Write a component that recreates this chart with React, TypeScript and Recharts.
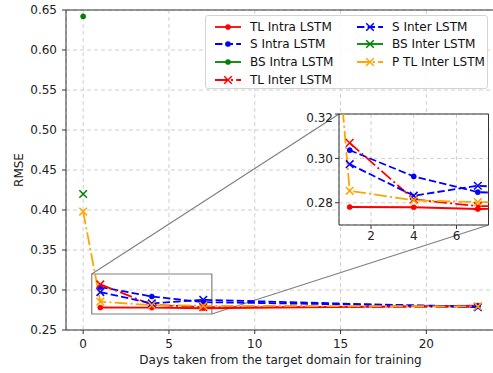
import React from "react";
import {
  LineChart,
  Line,
  XAxis,
  YAxis,
  CartesianGrid,
  ReferenceLine,
  ReferenceArea,
  Legend,
} from "recharts";

// days of target-domain data used for training
const days = [0, 1, 4, 7, 23];

// RMSE per model
const tlIntra = [null, 0.2781, 0.278, 0.2772, 0.2805];
const sIntra = [null, 0.3037, 0.2919, 0.2848, 0.2795];
const bsIntra = [0.642, null, null, null, null];
const tlInter = [null, 0.307, 0.2815, 0.2785, 0.279];
const sInter = [null, 0.2974, 0.2832, 0.2877, 0.2785];
const bsInter = [0.42, null, null, null, null];
const ptlInter = [0.398, 0.2854, 0.2811, 0.2803, 0.2795];

const xTicks = [0, 5, 10, 15, 20];
const yTicks = [0.25, 0.3, 0.35, 0.4, 0.45, 0.5, 0.55, 0.6, 0.65];
const insetXTicks = [2, 4, 6];
const insetYTicks = [0.28, 0.3, 0.32];

const X_DOMAIN = [-1, 24];
const Y_DOMAIN = [0.25, 0.65];
const ZOOM_X = [0.5, 7.5];
const ZOOM_Y = [0.27, 0.32];

const data = days.map((d, i) => ({
  day: d,
  tlIntra: tlIntra[i],
  sIntra: sIntra[i],
  bsIntra: bsIntra[i],
  tlInter: tlInter[i],
  sInter: sInter[i],
  bsInter: bsInter[i],
  ptlInter: ptlInter[i],
}));

const FONT = "'DejaVu Sans', sans-serif";
const DASH = "7.4 3.2";
const DASHDOT = "12.8 3.2 2 3.2";

type Series = {
  key: string;
  name: string;
  color: string;
  dash?: string;
  marker: "dot" | "x";
};

const SERIES: Series[] = [
  { key: "tlIntra", name: "TL Intra LSTM", color: "#ff0000", marker: "dot" },
  { key: "sIntra", name: "S Intra LSTM", color: "#0000ff", dash: DASH, marker: "dot" },
  { key: "bsIntra", name: "BS Intra LSTM", color: "#008000", marker: "dot" },
  { key: "tlInter", name: "TL Inter LSTM", color: "#ff0000", dash: DASHDOT, marker: "x" },
  { key: "sInter", name: "S Inter LSTM", color: "#0000ff", dash: DASH, marker: "x" },
  { key: "bsInter", name: "BS Inter LSTM", color: "#008000", marker: "x" },
  { key: "ptlInter", name: "P TL Inter LSTM", color: "#ffa500", dash: DASHDOT, marker: "x" },
];

// pixel boxes of the main plot and the inset plot (page coords)
const MAIN = { left: 66, top: 10, right: 495, bottom: 330 };
const INSET = { left: 339, top: 114, right: 488.5, bottom: 225 };

const pxToX = (px: number) =>
  X_DOMAIN[0] + ((px - MAIN.left) / (MAIN.right - MAIN.left)) * (X_DOMAIN[1] - X_DOMAIN[0]);
const pxToY = (py: number) =>
  Y_DOMAIN[0] + ((MAIN.bottom - py) / (MAIN.bottom - MAIN.top)) * (Y_DOMAIN[1] - Y_DOMAIN[0]);

function markerShape(s: Series, cx: number, cy: number, key?: any) {
  if (s.marker === "x") {
    const r = 3.8;
    return (
      <path
        key={key}
        d={`M${cx - r},${cy - r}L${cx + r},${cy + r}M${cx - r},${cy + r}L${cx + r},${cy - r}`}
        stroke={s.color}
        strokeWidth={1.5}
        fill="none"
      />
    );
  }
  return <circle key={key} cx={cx} cy={cy} r={2.6} fill={s.color} stroke={s.color} strokeWidth={0.5} />;
}

const renderDot = (s: Series) => (props: any) => {
  const { cx, cy, value, index } = props;
  if (cx == null || cy == null || value == null) return <g key={`e${index}`} />;
  return markerShape(s, cx, cy, `d${index}`);
};

const renderLegend = () => (
  <div
    style={{
      position: "relative",
      width: 283,
      height: 74,
      border: "1px solid #d4d4d4",
      borderRadius: 3,
      background: "rgba(255,255,255,0.85)",
      boxSizing: "border-box",
      fontFamily: FONT,
      fontSize: 12,
      color: "#111",
    }}
  >
    {SERIES.map((s, i) => {
      const col = i < 4 ? 0 : 1;
      const row = i < 4 ? i : i - 4;
      const left = col === 0 ? 9 : 151;
      const top = 10.5 + row * 17.7;
      return (
        <div key={s.key} style={{ position: "absolute", left, top: top - 7, height: 14, display: "flex", alignItems: "center" }}>
          <svg width={26} height={14} style={{ overflow: "visible" }}>
            <line x1={0} y1={7} x2={26} y2={7} stroke={s.color} strokeWidth={1.8} strokeDasharray={s.dash} />
            {markerShape(s, 13, 7)}
          </svg>
          <span style={{ marginLeft: 9, whiteSpace: "nowrap" }}>{s.name}</span>
        </div>
      );
    })}
  </div>
);

const tickStyle = { fontSize: 12, fill: "#222", fontFamily: FONT };

export default function App() {
  return (
    <div
      style={{
        position: "absolute",
        left: 0,
        top: 0,
        width: 493,
        height: 373,
        overflow: "hidden",
        background: "#fff",
        fontFamily: FONT,
      }}
    >
      <LineChart
        width={500}
        height={373}
        data={data}
        margin={{ top: MAIN.top, right: 500 - MAIN.right, left: 10, bottom: 3 }}
      >
        <CartesianGrid stroke="#cfcfcf" strokeDasharray="4 3" />
        <XAxis
          dataKey="day"
          type="number"
          domain={X_DOMAIN}
          ticks={xTicks}
          height={40}
          tick={tickStyle}
          tickSize={4}
          tickMargin={5}
          stroke="#333"
          label={{
            value: "Days taken from the target domain for training",
            position: "insideBottom",
            offset: 6,
            style: { fontSize: 12, fill: "#222", fontFamily: FONT },
          }}
        />
        <YAxis
          type="number"
          domain={Y_DOMAIN}
          ticks={yTicks}
          width={56}
          tick={tickStyle}
          tickSize={4}
          tickMargin={5}
          tickFormatter={(v: number) => v.toFixed(2)}
          stroke="#333"
          label={{
            value: "RMSE",
            angle: -90,
            position: "insideLeft",
            offset: 9,
            style: { textAnchor: "middle", fontSize: 12, fill: "#222", fontFamily: FONT },
          }}
        />
        <ReferenceLine y={Y_DOMAIN[1]} stroke="#333" strokeWidth={1} />
        <ReferenceArea
          x1={ZOOM_X[0]}
          x2={ZOOM_X[1]}
          y1={ZOOM_Y[0]}
          y2={ZOOM_Y[1]}
          fill="none"
          fillOpacity={0}
          stroke="#808080"
          strokeWidth={1.2}
        />
        <ReferenceLine
          segment={[
            { x: ZOOM_X[0], y: ZOOM_Y[1] },
            { x: pxToX(INSET.left), y: pxToY(INSET.top) },
          ]}
          stroke="#808080"
          strokeWidth={1.2}
          ifOverflow="visible"
        />
        <ReferenceLine
          segment={[
            { x: ZOOM_X[1], y: ZOOM_Y[0] },
            { x: pxToX(INSET.right), y: pxToY(INSET.bottom) },
          ]}
          stroke="#808080"
          strokeWidth={1.2}
          ifOverflow="visible"
        />
        {SERIES.map((s) => (
          <Line
            key={s.key}
            dataKey={s.key}
            name={s.name}
            stroke={s.color}
            strokeWidth={1.8}
            strokeDasharray={s.dash}
            dot={renderDot(s)}
            activeDot={false}
            isAnimationActive={false}
          />
        ))}
        <Legend
          layout="horizontal"
          verticalAlign="middle"
          content={renderLegend}
          wrapperStyle={{ position: "absolute", left: 205, top: 15, width: 283, height: 74 }}
        />
      </LineChart>

      <div style={{ position: "absolute", left: 295, top: 110 }}>
        <LineChart
          width={200}
          height={140}
          data={data}
          margin={{ top: INSET.top - 110, right: 495 - INSET.right, left: 4, bottom: 5 }}
        >
          <CartesianGrid stroke="#cfcfcf" strokeDasharray="4 3" fill="#fff" fillOpacity={1} />
          <XAxis
            dataKey="day"
            type="number"
            domain={ZOOM_X}
            allowDataOverflow
            ticks={insetXTicks}
            height={20}
            tick={tickStyle}
            tickSize={4}
            tickMargin={2}
            stroke="#333"
          />
          <YAxis
            type="number"
            domain={ZOOM_Y}
            allowDataOverflow
            ticks={insetYTicks}
            width={40}
            tick={tickStyle}
            tickSize={4}
            tickMargin={2}
            tickFormatter={(v: number) => v.toFixed(2)}
            stroke="#333"
          />
          <ReferenceLine y={ZOOM_Y[1]} stroke="#333" strokeWidth={1} />
          <ReferenceLine x={ZOOM_X[1]} stroke="#333" strokeWidth={1} />
          {SERIES.map((s) => (
            <Line
              key={s.key}
              dataKey={s.key}
              stroke={s.color}
              strokeWidth={1.8}
              strokeDasharray={s.dash}
              dot={renderDot(s)}
              activeDot={false}
              isAnimationActive={false}
            />
          ))}
        </LineChart>
      </div>
    </div>
  );
}
